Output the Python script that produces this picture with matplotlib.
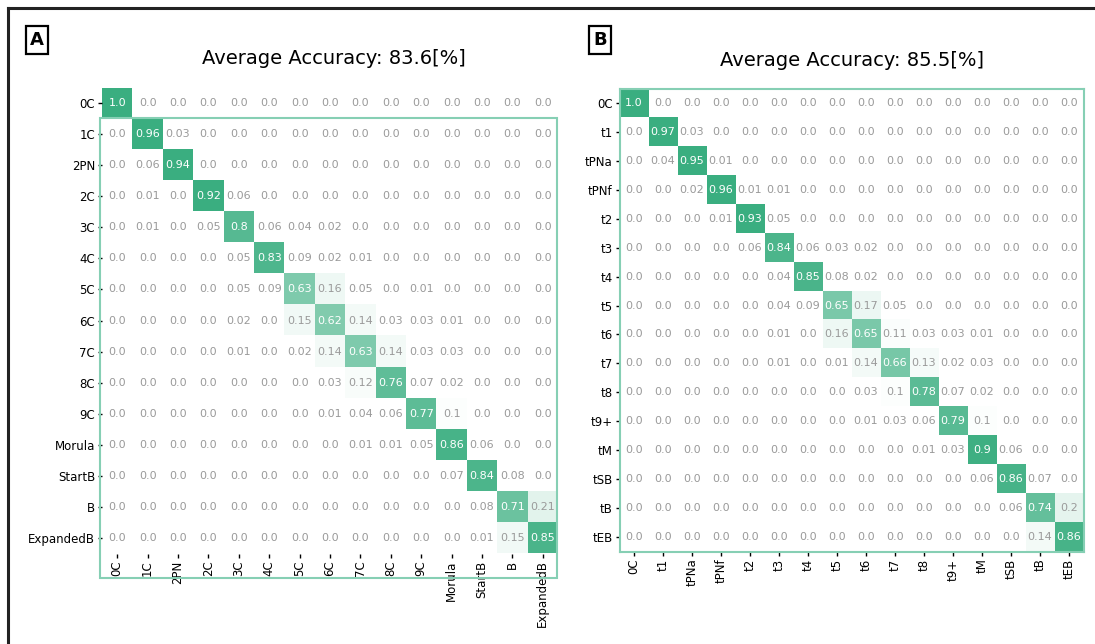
import numpy as np
import matplotlib
matplotlib.use("Agg")
import matplotlib.pyplot as plt
from matplotlib.colors import LinearSegmentedColormap
from matplotlib.patches import Rectangle
from matplotlib.lines import Line2D

labels_a = ["0C", "1C", "2PN", "2C", "3C", "4C", "5C", "6C", "7C", "8C", "9C",
            "Morula", "StartB", "B", "ExpandedB"]
title_a = "Average Accuracy: 83.6[%]"
cm_a = [
    [1.0, 0.0, 0.0, 0.0, 0.0, 0.0, 0.0, 0.0, 0.0, 0.0, 0.0, 0.0, 0.0, 0.0, 0.0],
    [0.0, 0.96, 0.03, 0.0, 0.0, 0.0, 0.0, 0.0, 0.0, 0.0, 0.0, 0.0, 0.0, 0.0, 0.0],
    [0.0, 0.06, 0.94, 0.0, 0.0, 0.0, 0.0, 0.0, 0.0, 0.0, 0.0, 0.0, 0.0, 0.0, 0.0],
    [0.0, 0.01, 0.0, 0.92, 0.06, 0.0, 0.0, 0.0, 0.0, 0.0, 0.0, 0.0, 0.0, 0.0, 0.0],
    [0.0, 0.01, 0.0, 0.05, 0.8, 0.06, 0.04, 0.02, 0.0, 0.0, 0.0, 0.0, 0.0, 0.0, 0.0],
    [0.0, 0.0, 0.0, 0.0, 0.05, 0.83, 0.09, 0.02, 0.01, 0.0, 0.0, 0.0, 0.0, 0.0, 0.0],
    [0.0, 0.0, 0.0, 0.0, 0.05, 0.09, 0.63, 0.16, 0.05, 0.0, 0.01, 0.0, 0.0, 0.0, 0.0],
    [0.0, 0.0, 0.0, 0.0, 0.02, 0.0, 0.15, 0.62, 0.14, 0.03, 0.03, 0.01, 0.0, 0.0, 0.0],
    [0.0, 0.0, 0.0, 0.0, 0.01, 0.0, 0.02, 0.14, 0.63, 0.14, 0.03, 0.03, 0.0, 0.0, 0.0],
    [0.0, 0.0, 0.0, 0.0, 0.0, 0.0, 0.0, 0.03, 0.12, 0.76, 0.07, 0.02, 0.0, 0.0, 0.0],
    [0.0, 0.0, 0.0, 0.0, 0.0, 0.0, 0.0, 0.01, 0.04, 0.06, 0.77, 0.1, 0.0, 0.0, 0.0],
    [0.0, 0.0, 0.0, 0.0, 0.0, 0.0, 0.0, 0.0, 0.01, 0.01, 0.05, 0.86, 0.06, 0.0, 0.0],
    [0.0, 0.0, 0.0, 0.0, 0.0, 0.0, 0.0, 0.0, 0.0, 0.0, 0.0, 0.07, 0.84, 0.08, 0.0],
    [0.0, 0.0, 0.0, 0.0, 0.0, 0.0, 0.0, 0.0, 0.0, 0.0, 0.0, 0.0, 0.08, 0.71, 0.21],
    [0.0, 0.0, 0.0, 0.0, 0.0, 0.0, 0.0, 0.0, 0.0, 0.0, 0.0, 0.0, 0.01, 0.15, 0.85],
]

labels_b = ["0C", "t1", "tPNa", "tPNf", "t2", "t3", "t4", "t5", "t6", "t7", "t8",
            "t9+", "tM", "tSB", "tB", "tEB"]
title_b = "Average Accuracy: 85.5[%]"
cm_b = [
    [1.0, 0.0, 0.0, 0.0, 0.0, 0.0, 0.0, 0.0, 0.0, 0.0, 0.0, 0.0, 0.0, 0.0, 0.0, 0.0],
    [0.0, 0.97, 0.03, 0.0, 0.0, 0.0, 0.0, 0.0, 0.0, 0.0, 0.0, 0.0, 0.0, 0.0, 0.0, 0.0],
    [0.0, 0.04, 0.95, 0.01, 0.0, 0.0, 0.0, 0.0, 0.0, 0.0, 0.0, 0.0, 0.0, 0.0, 0.0, 0.0],
    [0.0, 0.0, 0.02, 0.96, 0.01, 0.01, 0.0, 0.0, 0.0, 0.0, 0.0, 0.0, 0.0, 0.0, 0.0, 0.0],
    [0.0, 0.0, 0.0, 0.01, 0.93, 0.05, 0.0, 0.0, 0.0, 0.0, 0.0, 0.0, 0.0, 0.0, 0.0, 0.0],
    [0.0, 0.0, 0.0, 0.0, 0.06, 0.84, 0.06, 0.03, 0.02, 0.0, 0.0, 0.0, 0.0, 0.0, 0.0, 0.0],
    [0.0, 0.0, 0.0, 0.0, 0.0, 0.04, 0.85, 0.08, 0.02, 0.0, 0.0, 0.0, 0.0, 0.0, 0.0, 0.0],
    [0.0, 0.0, 0.0, 0.0, 0.0, 0.04, 0.09, 0.65, 0.17, 0.05, 0.0, 0.0, 0.0, 0.0, 0.0, 0.0],
    [0.0, 0.0, 0.0, 0.0, 0.0, 0.01, 0.0, 0.16, 0.65, 0.11, 0.03, 0.03, 0.01, 0.0, 0.0, 0.0],
    [0.0, 0.0, 0.0, 0.0, 0.0, 0.01, 0.0, 0.01, 0.14, 0.66, 0.13, 0.02, 0.03, 0.0, 0.0, 0.0],
    [0.0, 0.0, 0.0, 0.0, 0.0, 0.0, 0.0, 0.0, 0.03, 0.1, 0.78, 0.07, 0.02, 0.0, 0.0, 0.0],
    [0.0, 0.0, 0.0, 0.0, 0.0, 0.0, 0.0, 0.0, 0.01, 0.03, 0.06, 0.79, 0.1, 0.0, 0.0, 0.0],
    [0.0, 0.0, 0.0, 0.0, 0.0, 0.0, 0.0, 0.0, 0.0, 0.0, 0.01, 0.03, 0.9, 0.06, 0.0, 0.0],
    [0.0, 0.0, 0.0, 0.0, 0.0, 0.0, 0.0, 0.0, 0.0, 0.0, 0.0, 0.0, 0.06, 0.86, 0.07, 0.0],
    [0.0, 0.0, 0.0, 0.0, 0.0, 0.0, 0.0, 0.0, 0.0, 0.0, 0.0, 0.0, 0.0, 0.06, 0.74, 0.2],
    [0.0, 0.0, 0.0, 0.0, 0.0, 0.0, 0.0, 0.0, 0.0, 0.0, 0.0, 0.0, 0.0, 0.0, 0.14, 0.86],
]

W, H = 1095, 644
fig = plt.figure(figsize=(W / 100, H / 100), dpi=100)
fig.patch.set_facecolor("white")

cmap = LinearSegmentedColormap.from_list("wg", ["#ffffff", "#3aae80"])
TEAL = "#86cfb4"


def fx(px):
    return px / W


def fy(py):
    return 1 - py / H


def draw(ax, data, labels, spines):
    data = np.array(data, dtype=float)
    n = len(labels)
    ax.imshow(data, cmap=cmap, vmin=0.09, vmax=0.92, aspect="auto",
              interpolation="nearest")
    for i in range(n):
        for j in range(n):
            v = data[i, j]
            col = "white" if v > 0.5 else "#9a9a9a"
            ax.text(j, i, str(float(v)), ha="center", va="center",
                    fontsize=8, color=col)
    ax.set_xticks(range(n))
    ax.set_yticks(range(n))
    ax.set_xticklabels(labels, rotation=90, fontsize=8.5)
    ax.set_yticklabels(labels, fontsize=8.5)
    ax.tick_params(length=3, width=1, pad=2)
    for s in ax.spines.values():
        s.set_visible(spines)
        s.set_color(TEAL)
        s.set_linewidth(1.5)


ax_a = fig.add_axes([fx(102), fy(553.5), fx(456), 466 / H])
draw(ax_a, cm_a, labels_a, False)
ax_b = fig.add_axes([fx(619.5), fy(551.5), fx(464), 463 / H])
draw(ax_b, cm_b, labels_b, True)

# offset frame of panel A
fig.patches.append(Rectangle((fx(100), fy(578)), fx(457), (578 - 118) / H,
                             transform=fig.transFigure, fill=False,
                             edgecolor=TEAL, linewidth=1.5, zorder=5))

fig.text(fx(334), fy(58), title_a, ha="center", va="center", fontsize=14)
fig.text(fx(852), fy(60), title_b, ha="center", va="center", fontsize=14)

for lab, cx in (("A", 37), ("B", 600)):
    fig.text(fx(cx), fy(40), lab, ha="center", va="center", fontsize=13,
             fontweight="bold",
             bbox=dict(boxstyle="square,pad=0.25", fc="white", ec="black",
                       lw=1.6))

# outer frame lines
fig.add_artist(Line2D([fx(8), 1.0], [fy(8), fy(8)], transform=fig.transFigure,
                      color="#222222", lw=2.2))
fig.add_artist(Line2D([fx(8), fx(8)], [fy(8), 0.0], transform=fig.transFigure,
                      color="#222222", lw=2.2))

fig.savefig("out.png", dpi=100, facecolor="white")
